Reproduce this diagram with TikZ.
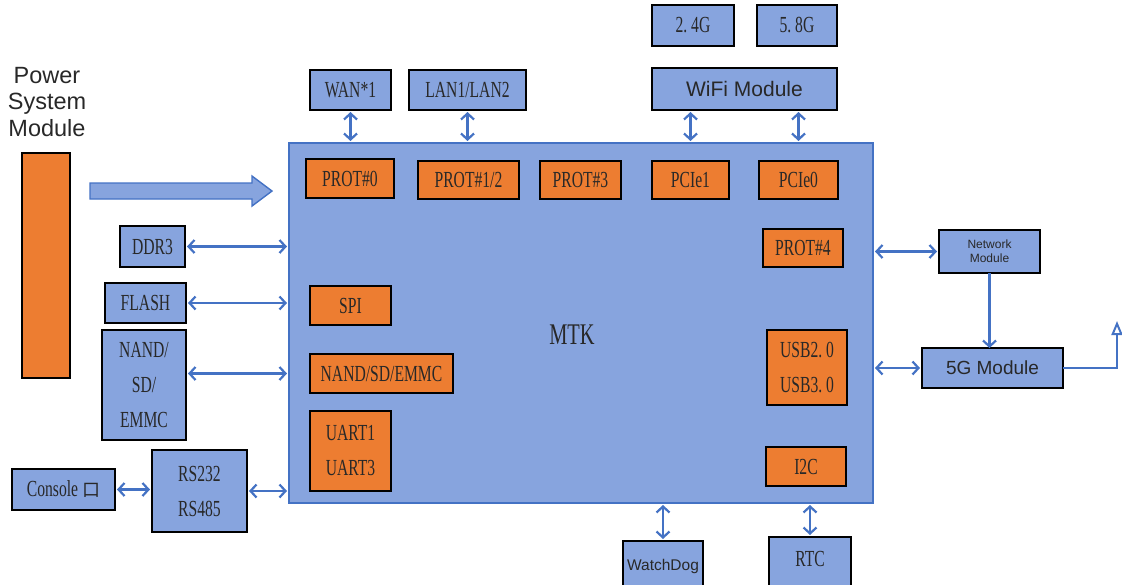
\documentclass[tikz,border=0pt]{standalone}
\usepackage{fontspec}
\setmainfont{Liberation Serif}
\newfontfamily\narrowserif[FakeStretch=0.68]{Liberation Serif}
\newfontfamily\sansfont{Liberation Sans}
\newfontfamily\cjk{Noto Sans CJK SC}
\usetikzlibrary{arrows.meta}
\definecolor{boxblue}{RGB}{135,164,222}
\definecolor{boxorange}{RGB}{237,125,49}
\definecolor{linkblue}{RGB}{68,114,196}
\definecolor{inktext}{RGB}{40,40,40}
\tikzset{
  sertext/.style={font=\narrowserif\fontsize{23}{35}\selectfont, align=center, text=inktext},
  sanstext/.style={font=\sansfont\fontsize{21}{26}\selectfont, align=center, text=inktext},
  bluebox/.style={draw=black, fill=boxblue, line width=1.6pt, inner sep=0pt, outer sep=0pt},
  orangebox/.style={draw=black, fill=boxorange, line width=1.6pt, inner sep=0pt, outer sep=0pt},
  link/.style={draw=linkblue, line width=2.2pt, shorten <=2pt, shorten >=2pt,
    {Straight Barb[length=6pt,width=13pt]}-{Straight Barb[length=6pt,width=13pt]}},
  onelink/.style={draw=linkblue, line width=2.2pt, -{Straight Barb[length=6pt,width=13pt]}}
}
\begin{document}
\begin{tikzpicture}[x=1pt,y=-1pt]
\useasboundingbox (0,0) rectangle (1122,584);
\node[sanstext, font=\sansfont\fontsize{23.5}{26.5}\selectfont] (powertext) at (47,102) {Power\\System\\Module};
\node[orangebox, minimum width=48, minimum height=225] (power) at (46,265.5) {};
\draw[draw=linkblue, fill=boxblue, line width=1.4pt] (90,183) -- (252,183) -- (252,176) -- (272,191) -- (252,206) -- (252,199) -- (90,199) -- cycle;

\node[draw=linkblue, fill=boxblue, line width=2pt, minimum width=584, minimum height=360, inner sep=0pt, outer sep=0pt] (mtk) at (581,323) {};
\node[sertext, font=\narrowserif\fontsize{30}{32}\selectfont] (mtklabel) at (572,335) {MTK};

\node[orangebox, sertext, minimum width=88, minimum height=39] (prot0) at (350,178.5) {PROT\#0};
\node[orangebox, sertext, minimum width=101, minimum height=38] (prot12) at (468.5,180) {PROT\#1/2};
\node[orangebox, sertext, minimum width=81, minimum height=38] (prot3) at (580.5,180) {PROT\#3};
\node[orangebox, sertext, minimum width=77, minimum height=38] (pcie1) at (690.5,180) {PCIe1};
\node[orangebox, sertext, minimum width=79, minimum height=38] (pcie0) at (798.5,180) {PCIe0};
\node[orangebox, sertext, minimum width=80, minimum height=38] (prot4) at (803,248) {PROT\#4};
\node[orangebox, sertext, minimum width=81, minimum height=39] (spi) at (350.5,305.5) {SPI};
\node[orangebox, sertext, minimum width=143, minimum height=39] (nandsd) at (381.5,373.5) {NAND/SD/EMMC};
\node[orangebox, sertext, minimum width=81, minimum height=80] (uart) at (350.5,451) {UART1\\UART3};
\node[orangebox, sertext, minimum width=80, minimum height=75] (usb) at (807,367.5) {USB2.\,0\\USB3.\,0};
\node[orangebox, sertext, minimum width=80, minimum height=39] (i2c) at (806,466.5) {I2C};

\node[bluebox, sertext, minimum width=81, minimum height=40] (wan) at (350.5,90) {WAN*1};
\node[bluebox, sertext, minimum width=117, minimum height=40] (lan) at (467.5,90) {LAN1/LAN2};
\node[bluebox, sertext, minimum width=82, minimum height=41] (band24) at (693,25.5) {2.\,4G};
\node[bluebox, sertext, minimum width=80, minimum height=41] (band58) at (797,25.5) {5.\,8G};
\node[bluebox, sanstext, minimum width=185, minimum height=42] (wifi) at (744.5,89) {WiFi Module};

\node[bluebox, sertext, minimum width=65, minimum height=41] (ddr) at (152.5,246.5) {DDR3};
\node[bluebox, sertext, minimum width=81, minimum height=40] (flash) at (145.5,303) {FLASH};
\node[bluebox, sertext, minimum width=84, minimum height=110] (nandl) at (144,385) {NAND/\\SD/\\EMMC};
\node[bluebox, sertext, minimum width=95, minimum height=82] (rs) at (199.5,491) {RS232\\RS485};
\node[bluebox, sertext, minimum width=103, minimum height=41] (console) at (63.5,489.5) {Console {\cjk\fontsize{18}{20}\selectfont 口}};

\node[bluebox, sanstext, font=\sansfont\fontsize{12}{14}\selectfont, minimum width=101, minimum height=43] (network) at (989.5,251.5) {Network\\Module};
\node[bluebox, sanstext, font=\sansfont\fontsize{19}{22}\selectfont, minimum width=141, minimum height=40] (fiveg) at (992.5,368) {5G Module};

\node[bluebox, minimum width=80, minimum height=60] (watchdog) at (663,571) {};
\node[sanstext, font=\sansfont\fontsize{15.5}{18}\selectfont] (watchdogtext) at (663,566) {WatchDog};
\node[bluebox, minimum width=82, minimum height=64] (rtc) at (810,569) {};
\node[sertext] (rtctext) at (810,559) {RTC};

\draw[link] (wan.south) -- (wan.south |- mtk.north);
\draw[link] (lan.south) -- (lan.south |- mtk.north);
\draw[link] (pcie1 |- wifi.south) -- (pcie1 |- mtk.north);
\draw[link] (pcie0 |- wifi.south) -- (pcie0 |- mtk.north);

\draw[link] (ddr.east) -- (ddr.east -| mtk.west);
\draw[link] (flash.east) -- (flash.east -| mtk.west);
\draw[link] (nandsd -| nandl.east) -- (nandsd -| mtk.west);
\draw[link] (rs.east) -- (rs.east -| mtk.west);
\draw[link] (console.east) -- (console.east -| rs.west);

\draw[link] (network.west -| mtk.east) -- (network.west);
\draw[link] (fiveg.west -| mtk.east) -- (fiveg.west);
\draw[onelink] (network.south) -- (network.south |- fiveg.north);
\coordinate (antenna) at (1117,321);
\draw[draw=linkblue, line width=2pt, -{Triangle[open, length=14pt, width=11pt]}] (fiveg.east) -- (fiveg.east -| antenna) -- (antenna);

\draw[link] (watchdog.north) -- (watchdog.north |- mtk.south);
\draw[link] (rtc.north) -- (rtc.north |- mtk.south);
\end{tikzpicture}
\end{document}
